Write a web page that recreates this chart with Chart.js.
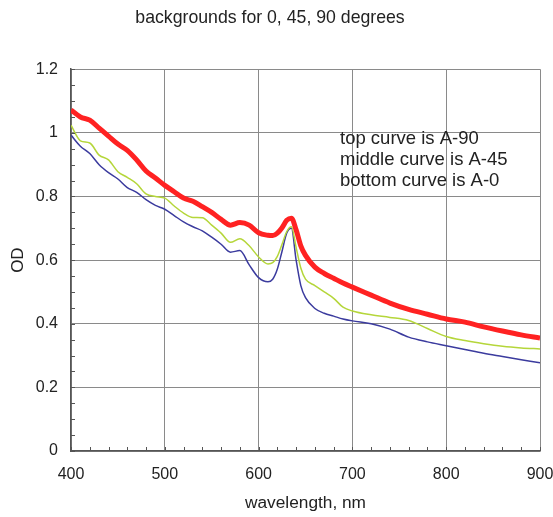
<!DOCTYPE html>
<html>
<head>
<meta charset="utf-8">
<script src="https://cdn.jsdelivr.net/npm/chart.js@4.4.1/dist/chart.umd.min.js"></script>
<style>
  html, body { margin: 0; padding: 0; background: #fff; }
  #wrap { width: 553px; height: 517px; }
</style>
</head>
<body>
<div id="wrap"><canvas id="chart"></canvas></div>
<script>
// wavelength grid (nm) shared by the three spectra
const wavelength = [400, 410, 420, 430, 440, 450, 460, 470, 480, 490, 500, 510, 520, 530, 540,
  550, 560, 570, 580, 590, 600, 610, 615, 620, 625, 630, 635, 640, 645, 650, 660, 670, 680,
  690, 700, 720, 740, 760, 780, 800, 820, 840, 860, 880, 900];

// A-90 (top)
const odA90 = [1.072, 1.05, 1.04, 1.015, 0.99, 0.965, 0.945, 0.915, 0.88, 0.858, 0.835, 0.815,
  0.795, 0.785, 0.768, 0.75, 0.728, 0.71, 0.718, 0.71, 0.686, 0.678, 0.677, 0.685, 0.702, 0.725,
  0.732, 0.695, 0.645, 0.615, 0.578, 0.558, 0.543, 0.528, 0.515, 0.49, 0.465, 0.445, 0.43, 0.415,
  0.405, 0.39, 0.377, 0.365, 0.355];

// A-45 (middle)
const odA45 = [1.024, 0.975, 0.968, 0.93, 0.915, 0.878, 0.86, 0.84, 0.808, 0.8, 0.795, 0.77,
  0.748, 0.734, 0.733, 0.71, 0.685, 0.656, 0.667, 0.645, 0.61, 0.588, 0.592, 0.612, 0.65, 0.69,
  0.705, 0.64, 0.575, 0.54, 0.52, 0.5, 0.48, 0.452, 0.44, 0.428, 0.42, 0.41, 0.385, 0.36,
  0.347, 0.337, 0.329, 0.324, 0.321];

// A-0 (bottom)
const odA0 = [0.993, 0.958, 0.935, 0.9, 0.875, 0.855, 0.828, 0.813, 0.79, 0.772, 0.76, 0.74,
  0.72, 0.705, 0.692, 0.672, 0.65, 0.625, 0.63, 0.585, 0.545, 0.532, 0.54, 0.572, 0.628, 0.685,
  0.7, 0.6, 0.52, 0.482, 0.448, 0.433, 0.424, 0.415, 0.409, 0.4, 0.383, 0.358, 0.343, 0.331,
  0.319, 0.307, 0.297, 0.287, 0.277];

const notes = ["top curve is A-90", "middle curve is A-45", "bottom curve is A-0"];

const FONT = "'Liberation Sans', Arial, Helvetica, sans-serif";
const TXT = "#222";

function pts(ys) {
  return wavelength.map((x, i) => ({ x, y: ys[i] }));
}

function series(ys, color, width) {
  return {
    data: pts(ys),
    borderColor: color,
    borderWidth: width,
    pointRadius: 0,
    fill: false,
    cubicInterpolationMode: "monotone"
  };
}

// small inward ticks + the text block inside the plot
const extras = {
  id: "extras",
  afterDatasetsDraw(chart) {
    const { ctx, scales: { x, y } } = chart;
    ctx.save();
    ctx.strokeStyle = "#555";
    ctx.lineWidth = 1;
    ctx.beginPath();
    for (let v = 0; v <= 1.2001; v += 0.05) {
      const py = Math.round(y.getPixelForValue(v)) + 0.5;
      ctx.moveTo(x.left, py);
      ctx.lineTo(x.left + 4, py);
    }
    for (let v = 400; v <= 900; v += 20) {
      const px = Math.round(x.getPixelForValue(v)) + 0.5;
      ctx.moveTo(px, y.bottom);
      ctx.lineTo(px, y.bottom - 4);
    }
    ctx.stroke();

    ctx.fillStyle = TXT;
    ctx.font = "18.5px " + FONT;
    ctx.textBaseline = "middle";
    ctx.textAlign = "left";
    notes.forEach((t, i) => ctx.fillText(t, 340, 139 + i * 21));
    ctx.restore();
  }
};

new Chart(document.getElementById("chart"), {
  type: "line",
  data: {
    datasets: [
      series(odA90, "#ff2222", 5),
      series(odA45, "#b5d63a", 1.5),
      series(odA0, "#3b3b9e", 1.5)
    ]
  },
  options: {
    responsive: true,
    maintainAspectRatio: false,
    animation: false,
    layout: { padding: { left: 0, right: 13, top: 0, bottom: 0 } },
    plugins: {
      legend: { display: false },
      tooltip: { enabled: false },
      title: {
        display: true,
        text: "backgrounds for 0, 45, 90 degrees",
        color: TXT,
        font: { family: FONT, size: 17.7, weight: "normal" },
        padding: { top: 7, bottom: 41 }
      }
    },
    scales: {
      x: {
        type: "linear",
        min: 400,
        max: 900,
        afterFit(s) {
          s.height = 66;
          // let the end labels hang past the plot edge
          s.paddingLeft = 0;
          s.paddingRight = 0;
        },
        ticks: {
          stepSize: 100,
          color: TXT,
          padding: 14,
          maxRotation: 0,
          font: { family: FONT, size: 16 }
        },
        grid: { color: "#8a8a8a", lineWidth: 1, drawTicks: false },
        border: { color: "#555", width: 1.5 },
        title: {
          display: true,
          text: "wavelength, nm",
          color: TXT,
          font: { family: FONT, size: 17.3 },
          padding: { top: 0, bottom: 3 }
        }
      },
      y: {
        min: 0,
        max: 1.2,
        afterFit(s) { s.width = 71; },
        ticks: {
          stepSize: 0.2,
          color: TXT,
          padding: 13,
          font: { family: FONT, size: 16 },
          callback: v => String(Math.round(v * 10) / 10)
        },
        grid: { color: "#8a8a8a", lineWidth: 1, drawTicks: false },
        border: { color: "#555", width: 1.5 },
        title: {
          display: true,
          text: "OD",
          color: TXT,
          font: { family: FONT, size: 17 },
          padding: { top: 8, bottom: 0 }
        }
      }
    }
  },
  plugins: [extras]
});
</script>
</body>
</html>
